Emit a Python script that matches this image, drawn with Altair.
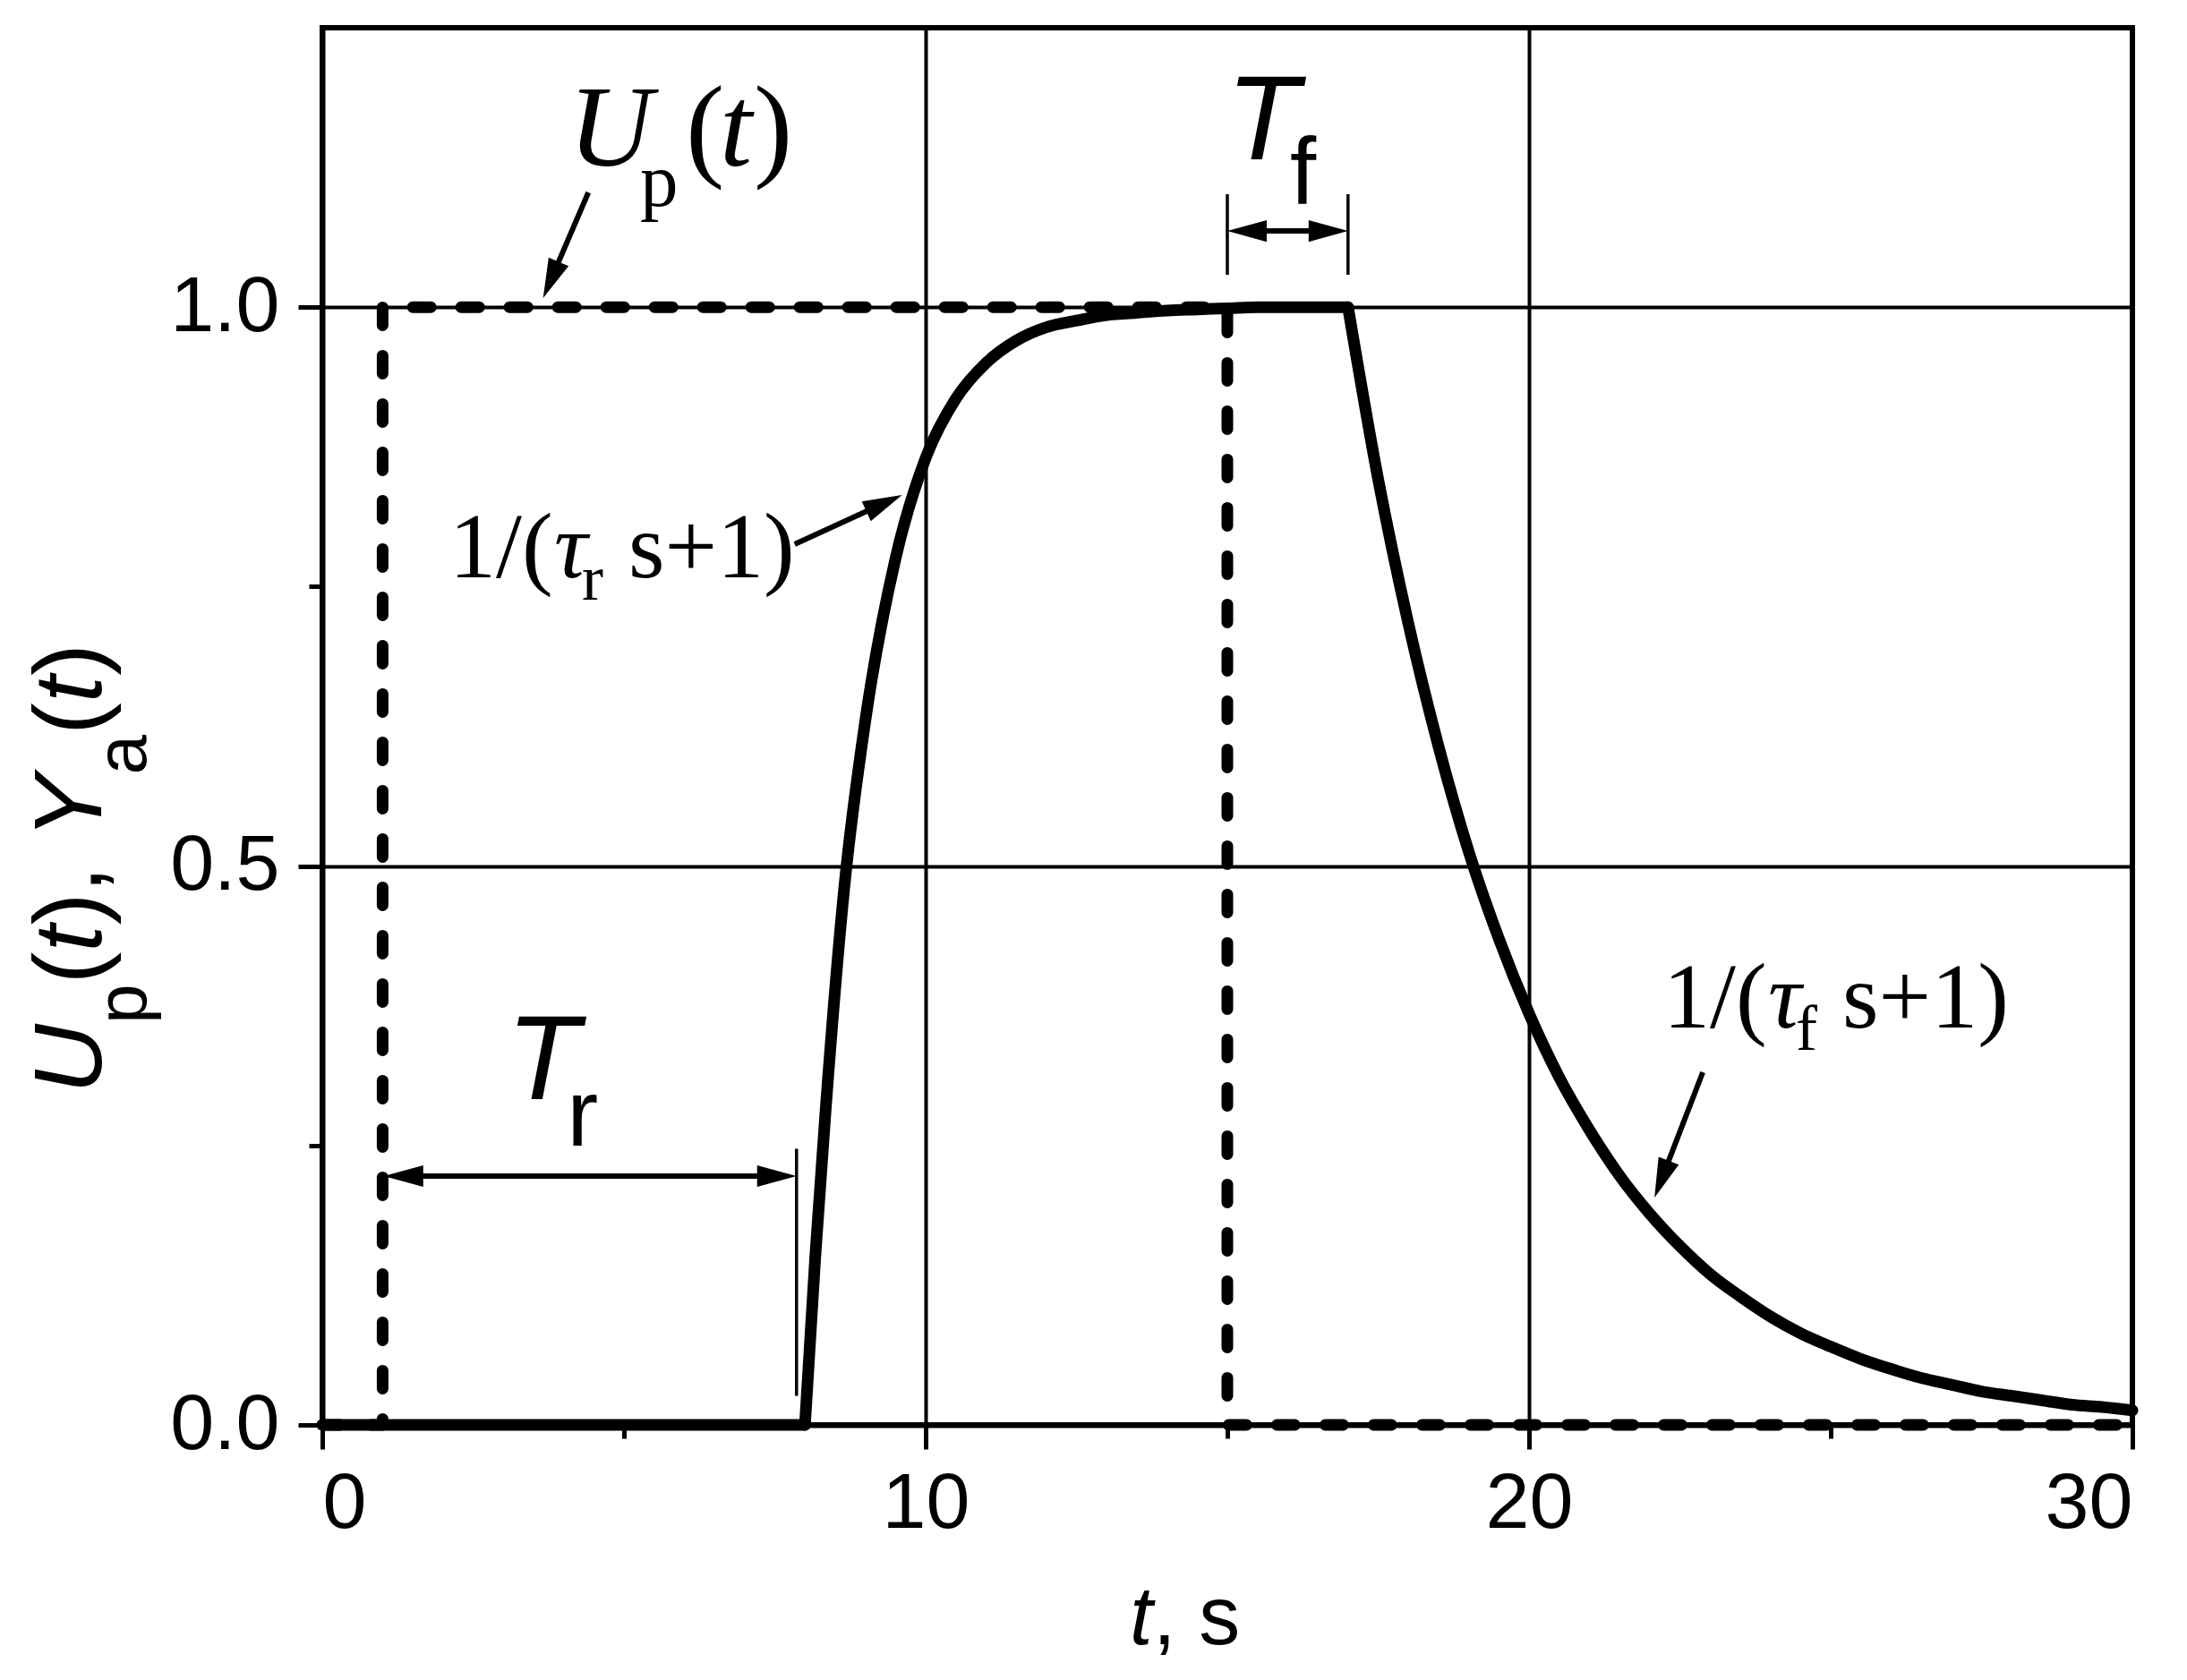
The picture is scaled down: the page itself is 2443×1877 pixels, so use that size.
import math
import altair as alt
import pandas as pd

# ---------------- data ----------------
# Up(t): dashed rectangular pulse
up_t = [0.0, 1.0, 1.0, 15.0, 15.0, 30.0]
up_v = [0.0, 0.0, 1.0, 1.0, 0.0, 0.0]

# Ya(t): solid response, in three pieces
ya_flat_t = [0.0, 8.0]
ya_flat_v = [0.0, 0.0]
ya_rise_t = [8.0, 8.17, 8.34, 8.65, 9.0, 9.5, 10.0, 10.5, 11.0, 11.5, 12.0, 12.5, 13.0, 13.5, 14.0, 14.5, 15.0, 15.5, 16.0, 16.5, 17.0]
ya_rise_v = [0.0, 0.15, 0.28, 0.48, 0.63, 0.775, 0.865, 0.918, 0.95, 0.97, 0.982, 0.988, 0.993, 0.995, 0.997, 0.998, 0.999, 1.0, 1.0, 1.0, 1.0]
ya_fall_t = [17.0, 17.5, 18.0, 18.5, 19.0, 19.5, 20.0, 20.5, 21.0, 21.5, 22.0, 22.5, 23.0, 23.5, 24.0, 24.5,
             25.0, 25.5, 26.0, 26.5, 27.0, 27.5, 28.0, 28.5, 29.0, 29.5, 30.0]
ya_fall_v = [1.0, 0.846, 0.717, 0.607, 0.513, 0.435, 0.368, 0.311, 0.264, 0.223, 0.189, 0.16, 0.135, 0.115, 0.097,
             0.082, 0.07, 0.059, 0.05, 0.042, 0.036, 0.03, 0.026, 0.022, 0.018, 0.016, 0.013]

x_major = [0, 10, 20, 30]
x_minor = [5, 15, 25]
y_major = [0.0, 0.5, 1.0]
y_minor = [0.25, 0.75]

# ---------------- layout ----------------
W, H = 2022, 1561
XMAX, YMAX = 30.0, 1.25
PX_X, PX_Y = W / XMAX, H / YMAX

xs = alt.Scale(domain=[0, XMAX], nice=False, zero=False)
ys = alt.Scale(domain=[0, YMAX], nice=False, zero=False)


def X(f):
    return alt.X(f, type="quantitative", scale=xs, axis=None)


def Y(f):
    return alt.Y(f, type="quantitative", scale=ys, axis=None)


SANS = "Liberation Sans"
SERIF = "Liberation Serif"

# ---------------- data frames ----------------
up_df = pd.DataFrame({"t": up_t, "v": up_v, "i": list(range(len(up_t)))})

ya_rows = []
for seg, (ts, vs) in enumerate([(ya_flat_t, ya_flat_v), (ya_rise_t, ya_rise_v), (ya_fall_t, ya_fall_v)]):
    for k, (t, v) in enumerate(zip(ts, vs)):
        ya_rows.append({"t": t, "v": v, "seg": seg, "i": k})
ya_df = pd.DataFrame(ya_rows)

axis_common = dict(
    domainColor="black", domainWidth=6, tickColor="black", tickWidth=5,
    labelFont=SANS, labelFontSize=88, labelColor="black", title=None,
    labelOverlap=False, gridColor="black", gridWidth=4, gridOpacity=1,
)

ya_line = alt.Chart(ya_df).mark_line(
    color="black", strokeWidth=13, interpolate="monotone", strokeCap="round", strokeJoin="round"
).encode(
    x=alt.X("t:Q", scale=xs, axis=alt.Axis(values=x_major, grid=True, tickSize=27,
                                           labelPadding=17, orient="bottom", **axis_common)),
    y=alt.Y("v:Q", scale=ys, axis=alt.Axis(values=y_major, grid=True, tickSize=27, format=".1f",
                                           labelPadding=21, orient="left", **axis_common)),
    detail="seg:N",
    order="i:Q",
)

minor_df = pd.DataFrame({"t": [x_minor[0]], "v": [y_minor[0]]})
minor_axes = alt.Chart(minor_df).mark_point(opacity=0).encode(
    x=alt.X("t:Q", scale=xs, axis=alt.Axis(values=x_minor, grid=False, domain=False, labels=False,
                                           tickSize=15, tickWidth=5, tickColor="black",
                                           title=None, orient="bottom")),
    y=alt.Y("v:Q", scale=ys, axis=alt.Axis(values=y_minor, grid=False, domain=False, labels=False,
                                           tickSize=15, tickWidth=5, tickColor="black",
                                           title=None, orient="left")),
)

up_line = alt.Chart(up_df).mark_line(
    color="black", strokeWidth=13, strokeDash=[20, 34], strokeCap="round", strokeJoin="round"
).encode(x=X("t"), y=Y("v"), order="i:Q")

# ---------------- annotations ----------------
# arrows: tail -> tip (data units)
arrows = [
    ((4.41, 1.1027), (3.66, 1.0082)),    # Up(t)
    ((7.83, 0.788), (9.61, 0.832)),      # 1/(tau_r s+1)
    ((22.88, 0.3155), (22.08, 0.2034)),  # 1/(tau_f s+1)
]
double_arrows = [
    ((1.02, 0.2226), (7.86, 0.2226)),    # T_r
    ((15.0, 1.0682), (17.0, 1.0682)),    # T_f
]
HEAD_LEN = 44.0


def angle_of(a, b):
    dx = (b[0] - a[0]) * PX_X
    dy = -(b[1] - a[1]) * PX_Y
    return math.degrees(math.atan2(dx, -dy)) % 360, dx, dy


shafts, heads = [], []
for tail, tip in arrows:
    ang, dx, dy = angle_of(tail, tip)
    L = math.hypot(dx, dy)
    f = (L - HEAD_LEN * 0.6) / L
    end = (tail[0] + (tip[0] - tail[0]) * f, tail[1] + (tip[1] - tail[1]) * f)
    shafts.append({"x": tail[0], "y": tail[1], "x2": end[0], "y2": end[1]})
    heads.append({"x": tip[0], "y": tip[1], "a": ang})
for a, b in double_arrows:
    ang_b, dx, dy = angle_of(a, b)
    ang_a, _, _ = angle_of(b, a)
    L = math.hypot(dx, dy)
    f0 = HEAD_LEN * 0.6 / L
    f1 = 1 - f0
    shafts.append({"x": a[0] + (b[0] - a[0]) * f0, "y": a[1] + (b[1] - a[1]) * f0,
                   "x2": a[0] + (b[0] - a[0]) * f1, "y2": a[1] + (b[1] - a[1]) * f1})
    heads.append({"x": b[0], "y": b[1], "a": ang_b})
    heads.append({"x": a[0], "y": a[1], "a": ang_a})

shaft_layer = alt.Chart(pd.DataFrame(shafts)).mark_rule(color="black", strokeWidth=6).encode(
    x=X("x"), y=Y("y"), x2="x2:Q", y2="y2:Q")
head_layer = alt.Chart(pd.DataFrame(heads)).mark_point(
    shape="M0,0L-0.55,2L0.55,2Z", filled=True, size=(HEAD_LEN) ** 2, color="black", opacity=1, strokeWidth=0
).encode(x=X("x"), y=Y("y"), angle=alt.Angle("a:Q", scale=None))

brackets = pd.DataFrame({
    "x": [7.86, 15.0, 17.0],
    "y": [0.026, 1.029, 1.029],
    "y2": [0.247, 1.1011, 1.1011],
})
bracket_layer = alt.Chart(brackets).mark_rule(color="black", strokeWidth=3.5).encode(
    x=X("x"), y=Y("y"), y2="y2:Q")

# text pieces: (text, font, style, size, x, y, angle)
pieces = [
    # Up(t)
    ("U", SERIF, "italic", 130, 4.08, 1.1267, 0),
    ("p", SERIF, "normal", 85, 5.267, 1.0906, 0),
    ("(", SERIF, "normal", 130, 6.024, 1.1267, 0),
    ("t", SERIF, "italic", 130, 6.588, 1.1267, 0),
    (")", SERIF, "normal", 130, 7.151, 1.1267, 0),
    # T_f
    ("T", SANS, "italic", 133, 14.985, 1.1323, 0),
    ("f", SANS, "normal", 105, 16.039, 1.0922, 0),
    # T_r
    ("T", SANS, "italic", 133, 3.056, 0.2915, 0),
    ("r", SANS, "normal", 105, 4.056, 0.2498, 0),
    # 1/(tau_r s+1)
    ("1/(", SERIF, "normal", 104, 2.107, 0.7583, 0),
    ("\u03c4", SERIF, "italic", 104, 3.843, 0.7583, 0),
    ("r", SERIF, "normal", 72, 4.303, 0.7383, 0),
    ("s+1)", SERIF, "normal", 104, 5.074, 0.7583, 0),
    # 1/(tau_f s+1)
    ("1/(", SERIF, "normal", 104, 22.226, 0.3555, 0),
    ("\u03c4", SERIF, "italic", 104, 23.961, 0.3555, 0),
    ("f", SERIF, "normal", 72, 24.421, 0.3355, 0),
    ("s+1)", SERIF, "normal", 104, 25.193, 0.3555, 0),
    # x title
    ("t", SANS, "italic", 92, 13.383, -0.1962, 0),
    (", s", SANS, "normal", 92, 13.769, -0.1962, 0),
    # y title (rotated)
    ("U", SANS, "italic", 108, -3.665, 0.2963, 270),
    ("p", SANS, "normal", 80, -2.923, 0.3587, 270),
    ("(", SANS, "normal", 108, -3.665, 0.3944, 270),
    ("t", SANS, "italic", 108, -3.665, 0.4232, 270),
    ("), ", SANS, "normal", 108, -3.665, 0.4472, 270),
    ("Y", SANS, "italic", 108, -3.665, 0.5241, 270),
    ("a", SANS, "normal", 80, -2.923, 0.5818, 270),
    ("(", SANS, "normal", 108, -3.665, 0.6174, 270),
    ("t", SANS, "italic", 108, -3.665, 0.6462, 270),
    (")", SANS, "normal", 108, -3.665, 0.6702, 270),
]
ann = pd.DataFrame(pieces, columns=["s", "font", "style", "size", "x", "y", "angle"])

text_layers = []
for (font, style), sub in ann.groupby(["font", "style"]):
    text_layers.append(
        alt.Chart(sub.reset_index(drop=True)).mark_text(
            font=font, fontStyle=style, align="left", baseline="alphabetic", color="black"
        ).encode(
            x=X("x"), y=Y("y"), text="s:N",
            size=alt.Size("size:Q", scale=None, legend=None),
            angle=alt.Angle("angle:Q", scale=None, legend=None),
        )
    )

chart = alt.layer(
    ya_line, minor_axes, up_line, bracket_layer, shaft_layer, head_layer, *text_layers
).resolve_axis(
    x="independent", y="independent"
).properties(
    width=W, height=H,
    padding={"left": 352, "top": 23, "right": 53, "bottom": 277},
    autosize=alt.AutoSizeParams(type="none"),
    background="white",
).configure_view(stroke="black", strokeWidth=6)

chart.save("out.html", embed_options={"renderer": "svg", "actions": False})
